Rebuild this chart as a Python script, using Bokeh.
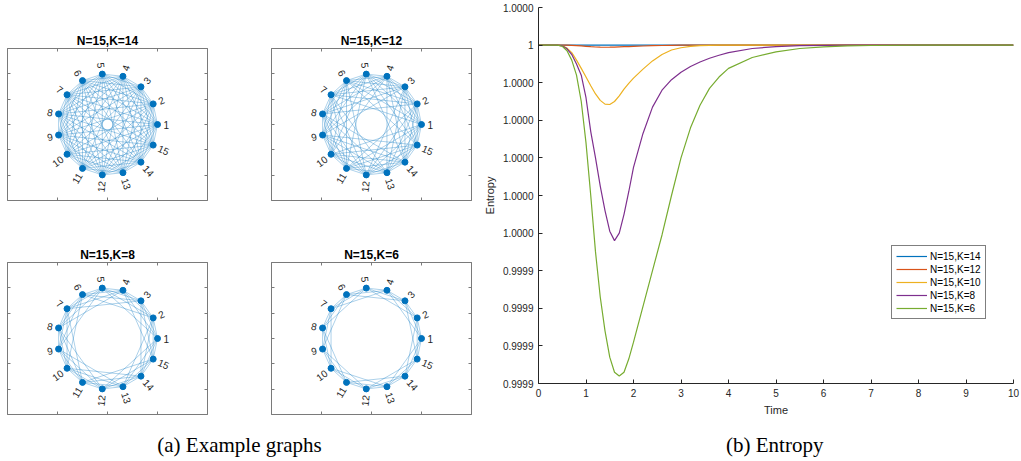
import math
from bokeh.plotting import figure
from bokeh.layouts import row, column
from bokeh.models import (Range1d, FixedTicker, Legend, LegendItem, LinearAxis,
                          CustomJSTickFormatter, ColumnDataSource)
from bokeh.embed import file_html
from bokeh.resources import INLINE
from bokeh.core.properties import value

# ---------------- data ----------------
n_nodes = 15
node_labels = [str(i) for i in range(1, 16)]
graph_titles = ["N=15,K=14", "N=15,K=12", "N=15,K=8", "N=15,K=6"]
graph_degrees = [14, 12, 8, 6]          # each node linked to its K nearest ring neighbours

series_labels = ["N=15,K=14", "N=15,K=12", "N=15,K=10", "N=15,K=8", "N=15,K=6"]
series_colors = ["#0072BD", "#D95319", "#EDB120", "#7E2F8E", "#77AC30"]

time = [0, 0.2, 0.4, 0.5, 0.6, 0.7, 0.8, 0.9, 1.0, 1.1, 1.2, 1.3, 1.4, 1.5, 1.6,
        1.7, 1.8, 1.9, 2.0, 2.2, 2.4, 2.6, 2.8, 3.0, 3.2, 3.4, 3.6, 3.8, 4.0,
        4.5, 5.0, 5.5, 6.0, 6.5, 7.0, 8.0, 9.0, 10.0]

# entropy deviation from 1, in units of 1e-5
dev_K14 = [0, 0, 0, 0, 0, 0, -0.001, -0.002, -0.002, -0.002, -0.002, -0.002, -0.002,
           -0.002, -0.002, -0.002, -0.002, -0.001, -0.001, -0.001, 0, 0, 0, 0, 0, 0,
           0, 0, 0, 0, 0, 0, 0, 0, 0, 0, 0, 0]
dev_K12 = [0, 0, 0, 0, 0, -0.005, -0.012, -0.022, -0.032, -0.042, -0.05, -0.055,
           -0.057, -0.056, -0.053, -0.048, -0.043, -0.038, -0.033, -0.024, -0.016,
           -0.01, -0.006, -0.003, -0.001, 0, 0, 0, 0, 0, 0, 0, 0, 0, 0, 0, 0, 0]
dev_K10 = [0, 0, 0, -0.02, -0.08, -0.2, -0.4, -0.62, -0.85, -1.08, -1.3, -1.47,
           -1.57, -1.58, -1.5, -1.35, -1.17, -1.02, -0.88, -0.64, -0.42, -0.25,
           -0.13, -0.07, -0.035, -0.015, -0.008, 0, 0, 0, 0, 0, 0, 0, 0, 0, 0, 0]
dev_K8 = [0, 0, 0, -0.02, -0.1, -0.25, -0.5, -0.8, -1.4, -2.3, -3.0, -3.75, -4.4,
          -4.95, -5.2, -5.0, -4.5, -3.9, -3.25, -2.35, -1.65, -1.2, -0.92, -0.72,
          -0.57, -0.45, -0.35, -0.27, -0.2, -0.09, -0.04, -0.015, -0.005, 0, 0, 0, 0, 0]
dev_K6 = [0, 0, 0, -0.03, -0.15, -0.4, -0.8, -1.5, -2.6, -4.0, -5.5, -6.7, -7.6,
          -8.3, -8.7, -8.8, -8.7, -8.35, -7.9, -6.95, -6.0, -5.05, -4.0, -3.0, -2.2,
          -1.6, -1.15, -0.85, -0.62, -0.33, -0.18, -0.09, -0.045, -0.02, -0.01, 0, 0, 0]
series_devs = [dev_K14, dev_K12, dev_K10, dev_K8, dev_K6]

y_tick_labels = ["1.0000", "1", "1.0000", "1.0000", "1.0000", "1.0000", "1.0000",
                 "0.9999", "0.9999", "0.9999", "0.9999"]
x_ticks = [0, 1, 2, 3, 4, 5, 6, 7, 8, 9, 10]

FONT = "Liberation Sans"
EDGE_COLOR = "#0072BD"
BOX_COLOR = "#7a7a7a"


def graph_panel(title, degree, w, h, bl, br, bt, bb):
    p = figure(width=w, height=h, x_range=Range1d(-2, 2), y_range=Range1d(-1.5, 1.5),
               output_backend="svg", toolbar_location=None, title=title,
               min_border_left=bl, min_border_right=br, min_border_top=bt,
               min_border_bottom=bb)
    p.title.align = "center"
    p.title.text_font = FONT
    p.title.text_font_size = "12px"
    p.title.text_font_style = "bold"
    p.title.text_color = "#000000"
    p.title.standoff = 1
    p.grid.visible = False
    p.outline_line_color = BOX_COLOR
    p.outline_line_width = 1
    p.add_layout(LinearAxis(), "above")
    p.add_layout(LinearAxis(), "right")
    for ax in p.xaxis:
        ax.ticker = FixedTicker(ticks=[-1, 0, 1])
    for ax in p.yaxis:
        ax.ticker = FixedTicker(ticks=[-1, -0.5, 0, 0.5, 1])
    for ax in p.axis:
        ax.formatter = CustomJSTickFormatter(code="return '';")
        ax.major_label_text_font_size = "0px"
        ax.major_label_standoff = 0
        ax.major_tick_in = 3
        ax.major_tick_out = 0
        ax.minor_tick_line_color = None
        ax.axis_line_color = BOX_COLOR
        ax.major_tick_line_color = BOX_COLOR

    ang = [2 * math.pi * i / n_nodes for i in range(n_nodes)]
    xs_n = [math.cos(a) for a in ang]
    ys_n = [math.sin(a) for a in ang]
    exs, eys = [], []
    for i in range(n_nodes):
        for d in range(1, degree // 2 + 1):
            j = (i + d) % n_nodes
            exs.append([xs_n[i], xs_n[j]])
            eys.append([ys_n[i], ys_n[j]])
    p.multi_line(exs, eys, line_color=EDGE_COLOR, line_alpha=0.55, line_width=0.6)
    p.scatter(xs_n, ys_n, size=6, fill_color="#0072BD", line_color="#0072BD")

    rl = {"x": [], "y": [], "t": [], "a": []}
    ll = {"x": [], "y": [], "t": [], "a": []}
    for i, a in enumerate(ang):
        lx, ly = 1.12 * math.cos(a), 1.12 * math.sin(a)
        if math.cos(a) >= 0:
            d, rot = rl, a
        else:
            d, rot = ll, a - math.pi
        d["x"].append(lx)
        d["y"].append(ly)
        d["t"].append(node_labels[i])
        d["a"].append(rot)
    for src, align in ((rl, "left"), (ll, "right")):
        p.text(x="x", y="y", text="t", angle="a", source=ColumnDataSource(src),
               text_align=align, text_baseline="middle", text_font=value(FONT),
               text_font_size="10px", text_color="#262626")
    return p


g1 = graph_panel(graph_titles[0], graph_degrees[0], 240, 231, 7, 33, 48, 31)
g2 = graph_panel(graph_titles[1], graph_degrees[1], 240, 231, 31, 9, 48, 31)
g3 = graph_panel(graph_titles[2], graph_degrees[2], 240, 189, 7, 33, 31, 6)
g4 = graph_panel(graph_titles[3], graph_degrees[3], 240, 189, 31, 9, 31, 6)


def caption(text, w, xc):
    c = figure(width=w, height=41, x_range=Range1d(0, w), y_range=Range1d(0, 41),
               output_backend="svg", toolbar_location=None, min_border=0,
               x_axis_location=None, y_axis_location=None)
    c.grid.visible = False
    c.outline_line_color = None
    c.text(x=[xc], y=[17], text=[text], text_align="center", text_baseline="middle",
           text_font=value("Liberation Serif"), text_font_size="21px",
           text_color="#000000")
    return c


capA = caption("(a) Example graphs", 480, 239)

# ---------------- entropy plot ----------------
ent = figure(width=541, height=420, x_range=Range1d(0, 10),
             y_range=Range1d(1 - 9e-5, 1 + 1e-5), output_backend="svg",
             toolbar_location=None, min_border_left=58, min_border_right=8,
             min_border_top=7, min_border_bottom=37)
ent.grid.visible = False
ent.outline_line_color = None
ent.xaxis.ticker = FixedTicker(ticks=x_ticks)
ent.yaxis.ticker = FixedTicker(ticks=[1 + 1e-5 * (1 - k) for k in range(len(y_tick_labels))])
ent.yaxis.formatter = CustomJSTickFormatter(
    args=dict(labels=y_tick_labels),
    code="const i = Math.round((1.00001 - tick) / 1e-5); return (i >= 0 && i < labels.length) ? labels[i] : '';")
ent.xaxis.axis_label = "Time"
ent.yaxis.axis_label = "Entropy"
for ax in ent.axis:
    ax.axis_line_color = "#262626"
    ax.major_tick_line_color = "#262626"
    ax.major_tick_in = 4
    ax.major_tick_out = 0
    ax.minor_tick_line_color = None
    ax.major_label_text_font = FONT
    ax.major_label_text_font_size = "10px"
    ax.major_label_text_color = "#262626"
    ax.major_label_standoff = 5
    ax.axis_label_text_font = FONT
    ax.axis_label_text_font_size = "11px"
    ax.axis_label_text_font_style = "normal"
    ax.axis_label_text_color = "#262626"
    ax.axis_label_standoff = 4

items = []
for lab, col, dev in zip(series_labels, series_colors, series_devs):
    ys = [1 + v * 1e-5 for v in dev]
    r = ent.line(time, ys, line_color=col, line_width=1.2)
    items.append(LegendItem(label=lab, renderers=[r]))

legend = Legend(items=items, location=(353, 64))
legend.border_line_color = "#000000"
legend.border_line_width = 1
legend.background_fill_color = "white"
legend.background_fill_alpha = 1
legend.label_text_font = FONT
legend.label_text_font_size = "10px"
legend.label_text_color = "#000000"
legend.glyph_width = 31
legend.glyph_height = 12
legend.label_height = 12
legend.label_standoff = 3
legend.spacing = 1
legend.padding = 4
legend.margin = 0
ent.add_layout(legend)

capB = caption("(b) Entropy", 541, 269)

layout = row(column(row(g1, g2), row(g3, g4), capA), column(ent, capB))

open("out.html", "w").write(file_html(layout, INLINE))
